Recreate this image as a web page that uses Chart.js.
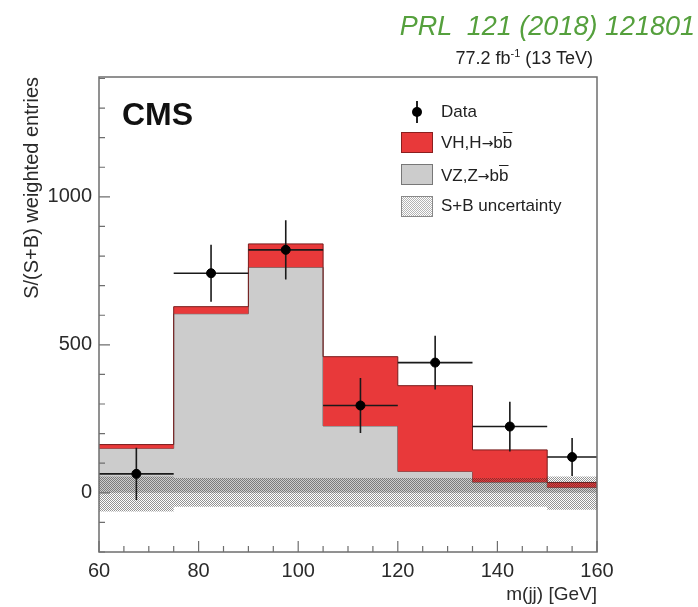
<!doctype html>
<html lang="en">
  <head>
    <title>m(jj) weighted entries</title>
    <style>
      body {
        margin: 0;
        background: #ffffff;
      }

      .plot {
        position: relative;
        width: 698px;
        height: 607px;
        font-family: "Liberation Sans", Arial, sans-serif;
        color: #222;
      }

      .plot canvas {
        position: absolute;
        left: 0;
        top: 0;
      }

      .journal {
        position: absolute;
        right: 3px;
        top: 13px;
        font-size: 27px;
        line-height: 27px;
        font-style: italic;
        color: #55a03d;
        white-space: pre;
      }

      .lumi {
        position: absolute;
        right: 105px;
        top: 49px;
        font-size: 18px;
        line-height: 18px;
        white-space: nowrap;
      }

      .lumi sup {
        font-size: 11px;
        vertical-align: 7px;
        line-height: 0;
      }

      .cms {
        position: absolute;
        left: 122px;
        top: 98px;
        font-size: 32px;
        line-height: 32px;
        font-weight: bold;
        color: #111;
      }

      .legend-row {
        position: absolute;
        left: 441px;
        font-size: 17px;
        line-height: 20px;
        white-space: nowrap;
      }

      .arrow {
        font-family: "DejaVu Sans", sans-serif;
        font-size: 14px;
      }

      .bar {
        text-decoration: overline;
      }

      .swatch {
        position: absolute;
        left: 401px;
        width: 32px;
        height: 21px;
        box-sizing: border-box;
      }

      .vh-swatch {
        background: #e8393a;
        border: 1px solid #8a1f1f;
      }

      .vz-swatch {
        background: #cccccc;
        border: 1px solid #777;
      }

      .unc-swatch {
        background: repeating-conic-gradient(#b4b4b4 0 25%, #ffffff 0 50%) 0 0 / 2px 2px;
        border: 1px solid #888;
      }

      .data-bar {
        position: absolute;
        left: 416px;
        top: 101px;
        width: 2px;
        height: 22px;
        background: #222;
      }

      .data-dot {
        position: absolute;
        left: 412px;
        top: 107px;
        width: 10px;
        height: 10px;
        border-radius: 50%;
        background: #000;
      }
    </style>
  </head>

  <body>
    <div class="plot">
      <canvas id="mjjChart" width="698" height="607"></canvas>
      <div class="journal">PRL  121 (2018) 121801</div>
      <div class="lumi">77.2 fb<sup>-1</sup> (13 TeV)</div>
      <div class="cms">CMS</div>

      <span class="data-bar"></span>
      <span class="data-dot"></span>
      <div class="legend-row" style="top: 102px">Data</div>

      <span class="swatch vh-swatch" style="top: 132px"></span>
      <div class="legend-row" style="top: 133px">VH,H<span class="arrow">→</span>b<span class="bar">b</span></div>

      <span class="swatch vz-swatch" style="top: 164px"></span>
      <div class="legend-row" style="top: 166px">VZ,Z<span class="arrow">→</span>b<span class="bar">b</span></div>

      <span class="swatch unc-swatch" style="top: 196px"></span>
      <div class="legend-row" style="top: 196px">S+B uncertainty</div>
    </div>

    <script src="https://cdn.jsdelivr.net/npm/chart.js@4.4.1/dist/chart.umd.min.js"></script>
    <script type="text/javascript">
      // Bin edges in m(jj) [GeV]
      const binEdges = [60, 75, 90, 105, 120, 135, 150, 160];

      // Stacked histograms (per bin)
      const vzValues = [150, 605, 762, 226, 72, 36, 18];
      const vhValues = [13, 24, 79, 234, 290, 109, 17];

      // Data points with symmetric errors
      const dataCenters = [67.5, 82.5, 97.5, 112.5, 127.5, 142.5, 155];
      const dataValues = [64, 742, 821, 295, 440, 224, 121];
      const dataErrors = [88, 96, 100, 93, 91, 84, 64];

      // S+B uncertainty band edges (per bin)
      const bandUp = [55, 50, 50, 50, 50, 50, 55];
      const bandDown = [-63, -47, -47, -47, -47, -47, -57];

      // Axis ticks
      const xTickLabels = [60, 80, 100, 120, 140, 160];
      const yTickLabels = [0, 500, 1000];

      // One point per lower bin edge, plus the upper edge holding the last value
      function toSteps(values) {
        const pts = values.map((v, i) => ({ x: binEdges[i], y: v }));
        pts.push({ x: binEdges[binEdges.length - 1], y: values[values.length - 1] });
        return pts;
      }

      const totalValues = vzValues.map((v, i) => v + vhValues[i]);

      // Error bar segments, broken by null points
      const errorSegments = [];
      dataCenters.forEach((c, i) => {
        errorSegments.push({ x: c, y: dataValues[i] - dataErrors[i] });
        errorSegments.push({ x: c, y: dataValues[i] + dataErrors[i] });
        errorSegments.push({ x: c, y: null });
        errorSegments.push({ x: binEdges[i], y: dataValues[i] });
        errorSegments.push({ x: binEdges[i + 1], y: dataValues[i] });
        errorSegments.push({ x: c, y: null });
      });

      // Fine hatch pattern for the uncertainty band
      function makeHatch() {
        const c = document.createElement("canvas");
        c.width = 2;
        c.height = 2;
        const g = c.getContext("2d");
        g.fillStyle = "rgba(40, 40, 40, 0.5)";
        g.fillRect(0, 0, 1, 1);
        g.fillRect(1, 1, 1, 1);
        return g.createPattern(c, "repeat");
      }

      // Frame and inward tick marks (ROOT style)
      const frameTicks = {
        id: "frameTicks",
        afterDraw(chart) {
          const { ctx, chartArea: a, scales } = chart;
          ctx.save();
          ctx.strokeStyle = "#6e6e6e";
          ctx.lineWidth = 1.5;
          ctx.strokeRect(a.left, a.top, a.right - a.left, a.bottom - a.top);

          ctx.lineWidth = 1.2;
          ctx.beginPath();
          for (let v = 60; v <= 160; v += 5) {
            const px = scales.x.getPixelForValue(v);
            const len = v % 20 === 0 ? 11 : 6;
            ctx.moveTo(px, a.bottom);
            ctx.lineTo(px, a.bottom - len);
          }
          for (let v = -200; v <= scales.y.max; v += 100) {
            const py = scales.y.getPixelForValue(v);
            const len = v % 500 === 0 ? 11 : 6;
            ctx.moveTo(a.left, py);
            ctx.lineTo(a.left + len, py);
          }
          ctx.stroke();
          ctx.restore();
        },
      };

      const hatch = makeHatch();

      new Chart(document.getElementById("mjjChart"), {
        type: "line",
        data: {
          datasets: [
            {
              label: "VZ,Z→bb",
              data: toSteps(vzValues),
              stepped: "before",
              borderColor: "#5a5a5a",
              borderWidth: 1,
              backgroundColor: "#cccccc",
              fill: "origin",
              pointRadius: 0,
              order: 5,
            },
            {
              label: "VH,H→bb",
              data: toSteps(totalValues),
              stepped: "before",
              borderColor: "#7a1c1c",
              borderWidth: 1,
              backgroundColor: "#e8393a",
              fill: "-1",
              pointRadius: 0,
              order: 4,
            },
            {
              label: "band up",
              data: toSteps(bandUp),
              stepped: "before",
              borderWidth: 0,
              borderColor: "rgba(0,0,0,0)",
              fill: false,
              pointRadius: 0,
              order: 3,
            },
            {
              label: "S+B uncertainty",
              data: toSteps(bandDown),
              stepped: "before",
              borderWidth: 0,
              borderColor: "rgba(0,0,0,0)",
              backgroundColor: hatch,
              fill: 2,
              pointRadius: 0,
              order: 2,
            },
            {
              label: "errors",
              data: errorSegments,
              borderColor: "#1a1a1a",
              borderWidth: 1.6,
              spanGaps: false,
              fill: false,
              pointRadius: 0,
              order: 1,
            },
            {
              label: "Data",
              type: "scatter",
              data: dataCenters.map((c, i) => ({ x: c, y: dataValues[i] })),
              pointRadius: 4.5,
              pointBackgroundColor: "#000",
              pointBorderColor: "#000",
              order: 0,
            },
          ],
        },
        options: {
          responsive: false,
          animation: false,
          devicePixelRatio: 1,
          layout: {
            padding: { top: 77, right: 101, bottom: 0, left: 0 },
          },
          plugins: {
            legend: { display: false },
            tooltip: { enabled: false },
          },
          scales: {
            x: {
              type: "linear",
              min: 60,
              max: 160,
              afterFit: (s) => {
                s.height = 55;
              },
              afterBuildTicks: (s) => {
                s.ticks = xTickLabels.map((v) => ({ value: v }));
              },
              grid: { display: false, drawTicks: false },
              border: { display: false },
              ticks: {
                autoSkip: false,
                maxRotation: 0,
                padding: 7,
                color: "#2a2a2a",
                font: { family: "Liberation Sans", size: 20 },
                callback: (v) => String(v),
              },
              title: {
                display: true,
                text: "m(jj) [GeV]",
                align: "end",
                color: "#2a2a2a",
                font: { family: "Liberation Sans", size: 19 },
                padding: { top: 0, bottom: 1 },
              },
            },
            y: {
              type: "linear",
              min: -200,
              max: 1405,
              afterFit: (s) => {
                s.width = 99;
              },
              afterBuildTicks: (s) => {
                s.ticks = yTickLabels.map((v) => ({ value: v }));
              },
              grid: { display: false, drawTicks: false },
              border: { display: false },
              ticks: {
                padding: 7,
                color: "#2a2a2a",
                font: { family: "Liberation Sans", size: 20 },
                callback: (v) => String(v),
              },
              title: {
                display: true,
                text: "S/(S+B) weighted entries",
                align: "end",
                color: "#2a2a2a",
                font: { family: "Liberation Sans", size: 20 },
                padding: { top: 20, bottom: 0 },
              },
            },
          },
        },
        plugins: [frameTicks],
      });
    </script>
  </body>
</html>
